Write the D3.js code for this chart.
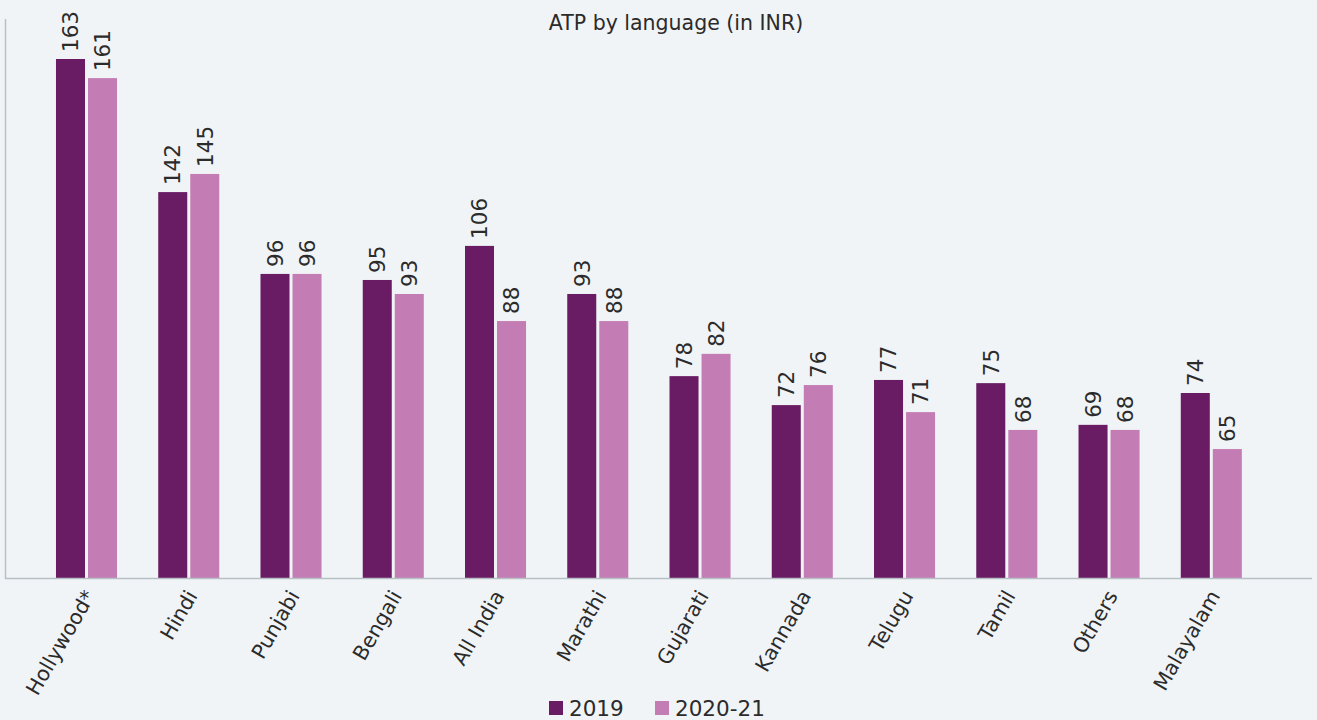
<!DOCTYPE html>
<html>
<head>
<meta charset="utf-8">
<script src="https://cdn.jsdelivr.net/npm/d3@7"></script>
<style>
  html, body { margin: 0; padding: 0; background: #f1f4f6; }
  svg { display: block; }
  text { font-family: "DejaVu Sans", Verdana, sans-serif; fill: #2b2b2b; }
</style>
</head>
<body>
<svg id="chart" width="1317" height="720"></svg>
<script>
// ---- data ----
const categories = ["Hollywood*", "Hindi", "Punjabi", "Bengali", "All India", "Marathi",
                    "Gujarati", "Kannada", "Telugu", "Tamil", "Others", "Malayalam"];
const seriesNames = ["2019", "2020-21"];
// printed value labels (INR)
const labels2019   = [163, 142, 96, 95, 106, 93, 78, 72, 77, 75, 69, 74];
const labels202021 = [161, 145, 96, 93, 88, 88, 82, 76, 71, 68, 68, 65];
// bar lengths as drawn in the picture (same units, tallest bar = 163)
const bars2019   = [163, 121.2, 95.5, 93.6, 104.3, 89.2, 63.4, 54.3, 62.2, 61.2, 48.1, 58.1];
const bars202021 = [157.0, 126.9, 95.5, 89.2, 80.7, 80.7, 70.4, 60.6, 52.1, 46.5, 46.5, 40.5];
const colors = ["#691b63", "#c47db4"];
const title = "ATP by language (in INR)";

// ---- layout ----
const svg = d3.select("#chart");
const baseY = 578, topY = 59;
const x = d3.scaleBand().domain(categories).range([25.3, 1272.5]).paddingInner(0.403).paddingOuter(0.3);
const xs = d3.scaleBand().domain(seriesNames).range([0, x.bandwidth()]).paddingInner(0.094);
const y = d3.scaleLinear().domain([0, 163]).range([baseY, topY]);

const rows = categories.map((c, i) => ({
  cat: c,
  vals: [
    { s: seriesNames[0], bar: bars2019[i], label: labels2019[i] },
    { s: seriesNames[1], bar: bars202021[i], label: labels202021[i] }
  ]
}));

// title
svg.append("text").attr("x", 676).attr("y", 30).attr("text-anchor", "middle")
  .style("font-size", "20.5px").text(title);

// axes lines
svg.append("line").attr("x1", 5.5).attr("x2", 5.5).attr("y1", 19).attr("y2", baseY + 0.5)
  .attr("stroke", "#b7bfc7").attr("stroke-width", 1.5);

const groups = svg.append("g").selectAll("g").data(rows).join("g")
  .attr("transform", d => `translate(${x(d.cat)},0)`);

groups.selectAll("rect").data(d => d.vals).join("rect")
  .attr("x", d => xs(d.s))
  .attr("width", xs.bandwidth())
  .attr("y", d => y(d.bar))
  .attr("height", d => baseY - y(d.bar))
  .attr("fill", (d, i) => colors[i]);

groups.selectAll("text.val").data(d => d.vals).join("text")
  .attr("class", "val")
  .attr("transform", d => `translate(${xs(d.s) + xs.bandwidth() / 2},${y(d.bar) - 7}) rotate(-90)`)
  .attr("dy", "0.36em")
  .style("font-size", "21.5px")
  .text(d => d.label);

svg.append("line").attr("x1", 5).attr("x2", 1312).attr("y1", baseY + 0.5).attr("y2", baseY + 0.5)
  .attr("stroke", "#b7bfc7").attr("stroke-width", 1.5);

// x labels
svg.append("g").selectAll("text").data(categories).join("text")
  .attr("transform", d => `translate(${x(d) + x.bandwidth() / 2 + 3},${592}) rotate(-60)`)
  .attr("text-anchor", "end")
  .attr("dy", "0.36em")
  .style("font-size", "20.5px")
  .text(d => d);

// legend
const legend = svg.append("g");
const legendX = [549, 655];
seriesNames.forEach((s, i) => {
  legend.append("rect").attr("x", legendX[i]).attr("y", 701).attr("width", 14).attr("height", 14).attr("fill", colors[i]);
  legend.append("text").attr("x", legendX[i] + 20).attr("y", 716).style("font-size", "21.5px").text(s);
});
</script>
</body>
</html>
